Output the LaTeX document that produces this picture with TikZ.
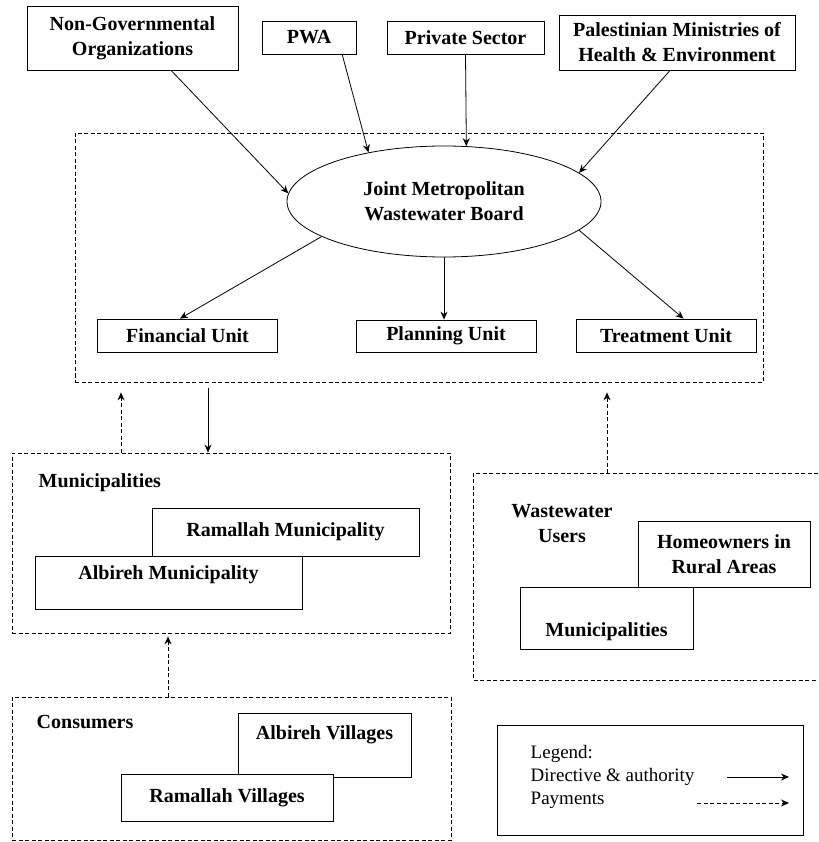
\documentclass[tikz,border=0pt]{standalone}
\usepackage{fontspec}
\setmainfont{Liberation Serif}
\usetikzlibrary{arrows.meta, shapes.geometric}
\tikzset{
    orgbox/.style={draw, fill=white, inner sep=0pt, align=center, font=\bfseries\fontsize{20}{25}\selectfont},
    groupframe/.style={draw, dash pattern=on 4pt off 2.5pt, inner sep=0pt},
    grouplabel/.style={align=center, font=\bfseries\fontsize{20}{25}\selectfont},
    directive/.style={-{Stealth[length=8pt, width=7pt]}},
    payment/.style={directive, dash pattern=on 4pt off 2.5pt},
    legendtext/.style={align=left, font=\fontsize{19}{23}\selectfont}
}

\begin{document}
\begin{tikzpicture}[x=1pt, y=-1pt, line width=0.8pt]
    \useasboundingbox (0,0) rectangle (818,842);

    % agencies above the board
    \node[orgbox, minimum width=211, minimum height=64] (ngo) at (132.5,38) {Non-Governmental\\Organizations};
    \node[orgbox, minimum width=94, minimum height=33] (pwa) at (309,37.5) {PWA};
    \node[orgbox, minimum width=157, minimum height=33] (priv) at (465.5,37.5) {Private Sector};
    \node[orgbox, minimum width=236, minimum height=55] (moh) at (677,42.5) {Palestinian Ministries of\\Health \& Environment};

    % joint board and its units
    \node[groupframe, minimum width=688, minimum height=249] (board grp) at (419,257.5) {};
    \node[draw, ellipse, minimum width=314, minimum height=111, inner sep=0pt, grouplabel] (board) at (444,201.5) {Joint Metropolitan\\Wastewater Board};
    \node[orgbox, minimum width=180, minimum height=33] (fin) at (187.5,335.5) {Financial Unit};
    \node[orgbox, minimum width=180, minimum height=32] (plan) at (446,336) {Planning Unit};
    \node[orgbox, minimum width=180, minimum height=33] (treat) at (666,335.5) {Treatment Unit};

    \draw[directive] (ngo.-40) -- (board.177);
    \draw[directive] (pwa.-27) -- (board.147);
    \draw[directive] (priv.south) -- (board.68);
    \draw[directive] (moh.-104) -- (board.12);
    \draw[directive] (board.196) -- (fin.114);
    \draw[directive] (board.south) -- (board.south |- plan.north);
    \draw[directive] (board.-12) -- (treat.44);

    % municipalities
    \node[groupframe, minimum width=438, minimum height=180] (mun grp) at (231,543) {};
    \node[grouplabel, anchor=west] (mun lbl) at (35,483) {Municipalities};
    \node[orgbox, minimum width=267, minimum height=48] (ram mun) at (285.5,532) {Ramallah Municipality};
    \node[orgbox, minimum width=267, minimum height=53] (alb mun) at (168.5,582.5) {};
    \node[grouplabel] (alb mun txt) at (168.5,575) {Albireh Municipality};

    % wastewater users
    \draw[groupframe] (818,473) -- (473,473) -- (473,680) -- (818,680);
    \node[grouplabel] (wu lbl) at (562,524) {Wastewater\\Users};
    \node[orgbox, minimum width=172, minimum height=66] (home) at (724,554) {Homeowners in\\Rural Areas};
    \node[orgbox, minimum width=173, minimum height=62] (wu mun) at (606.5,618) {};
    \node[grouplabel] (wu mun txt) at (606.5,632) {Municipalities};

    % consumers
    \node[groupframe, minimum width=439, minimum height=143] (con grp) at (231.5,768.5) {};
    \node[grouplabel, anchor=west] (con lbl) at (33,722) {Consumers};
    \node[orgbox, minimum width=173, minimum height=64] (alb vil) at (324.5,745) {};
    \node[grouplabel] (alb vil txt) at (324.5,735) {Albireh Villages};
    \node[orgbox, minimum width=212, minimum height=47] (ram vil) at (227,797.5) {Ramallah Villages};

    % links between the groups
    \coordinate (x1) at (121,0);
    \coordinate (x2) at (208,0);
    \coordinate (x4) at (168,0);
    \coordinate (wu top) at (607,473);
    \draw[payment, shorten >=10pt] (x1 |- mun grp.north) -- (x1 |- board grp.south);
    \draw[directive, shorten <=6pt] (x2 |- board grp.south) -- (x2 |- mun grp.north);
    \draw[payment, shorten >=10pt] (wu top) -- (wu top |- board grp.south);
    \draw[payment, shorten >=3pt] (x4 |- con grp.north) -- (x4 |- mun grp.south);

    % legend
    \node[draw, minimum width=306, minimum height=110, inner sep=0pt] (legend) at (650,780) {};
    \node[legendtext, anchor=west] (legend txt) at (527,777) {Legend:\\Directive \& authority\\Payments};
    \coordinate (ld1) at (727,777);
    \coordinate (ld2) at (789,777);
    \coordinate (lp1) at (697,803);
    \coordinate (lp2) at (789,803);
    \draw[directive] (ld1) -- (ld2);
    \draw[payment] (lp1) -- (lp2);
\end{tikzpicture}
\end{document}
